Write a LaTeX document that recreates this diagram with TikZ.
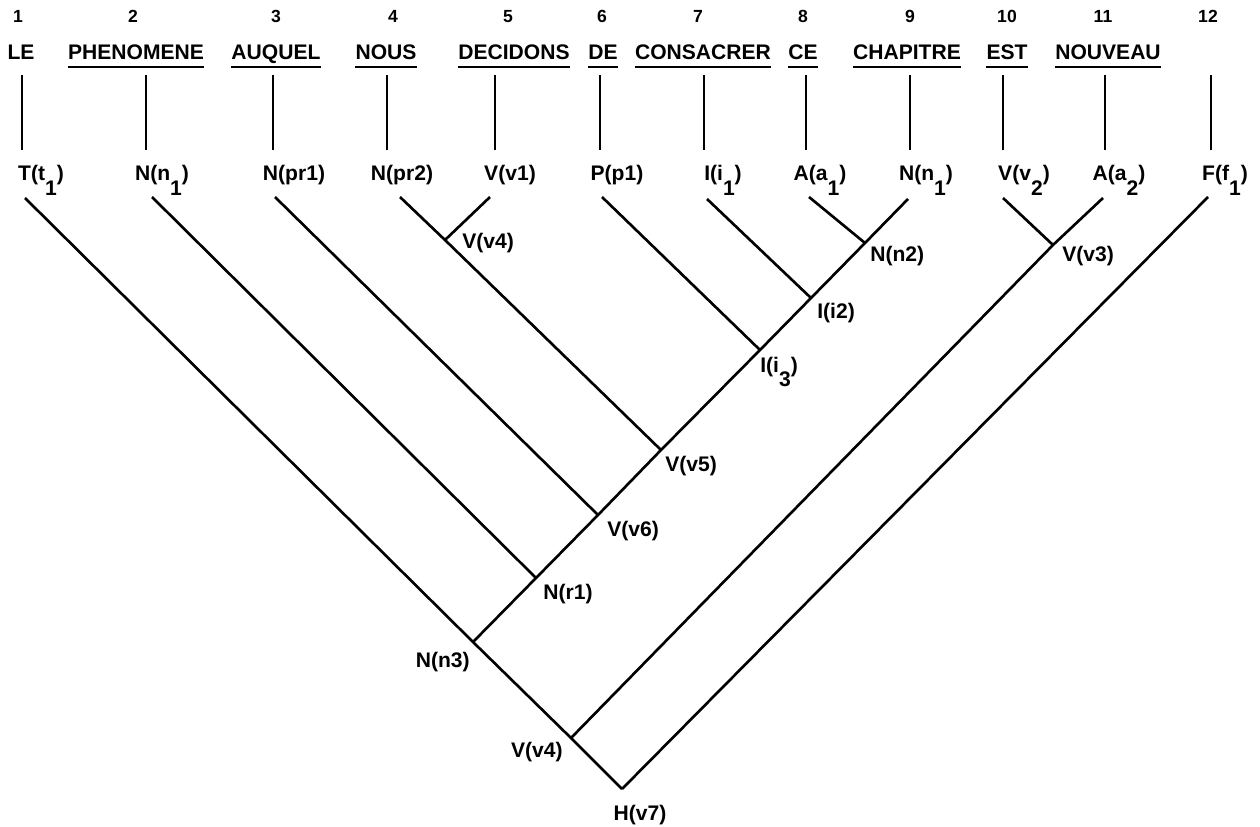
\documentclass[tikz,border=0pt]{standalone}
\usepackage{fontspec}
\setmainfont{Liberation Sans}
\usetikzlibrary{positioning}
\newcommand{\low}[1]{\raisebox{-1.3ex}{#1}}

\begin{document}
\begin{tikzpicture}[x=0.02cm,y=-0.02cm,
	num/.style={font=\fontsize{10}{12}\selectfont\bfseries, inner sep=0pt, anchor=base},
	word/.style={font=\fontsize{12}{14}\selectfont\bfseries, inner sep=0pt, text depth=0pt, anchor=base},
	leaf/.style={font=\fontsize{12}{14}\selectfont\bfseries, inner sep=0pt, anchor=base},
	lbl/.style={font=\fontsize{12}{14}\selectfont\bfseries, inner sep=0pt},
	uline/.style={line width=1.5pt},
	branch/.style={line width=1.5pt},
	stem/.style={line width=1.5pt, shorten >=8.5pt}]
		\useasboundingbox (0,0) rectangle (1260,827);
		
		% word numbers
		\node[num] (num1) at (18,23){1};
		\node[num] (num2) at (133,23){2};
		\node[num] (num3) at (276,23){3};
		\node[num] (num4) at (393,23){4};
		\node[num] (num5) at (508,23){5};
		\node[num] (num6) at (602,23){6};
		\node[num] (num7) at (698,23){7};
		\node[num] (num8) at (803,23){8};
		\node[num] (num9) at (910,23){9};
		\node[num] (num10) at (1007,23){10};
		\node[num] (num11) at (1103,23){11};
		\node[num] (num12) at (1208,23){12};
		
		% the sentence
		\node[word] (w1) at (21,60){LE};
		\node[word] (w2) at (136,60){PHENOMENE};
		\node[word] (w3) at (276,60){AUQUEL};
		\node[word] (w4) at (386,60){NOUS};
		\node[word] (w5) at (514,60){DECIDONS};
		\node[word] (w6) at (603,60){DE};
		\node[word] (w7) at (703,60){CONSACRER};
		\node[word] (w8) at (803,60){CE};
		\node[word] (w9) at (907,60){CHAPITRE};
		\node[word] (w10) at (1007,60){EST};
		\node[word] (w11) at (1108,60){NOUVEAU};
		
		\foreach \w in {w2,w3,w4,w5,w6,w7,w8,w9,w10,w11}
			\draw[uline] ([yshift=-3.7pt]\w.south west) -- ([yshift=-3.7pt]\w.south east);
		
		% categories
		\node[leaf] (l1) at (41,181){T(t\low{1})};
		\node[leaf] (l2) at (162,181){N(n\low{1})};
		\node[leaf] (l3) at (294,181){N(pr1)};
		\node[leaf] (l4) at (402,181){N(pr2)};
		\node[leaf] (l5) at (510,181){V(v1)};
		\node[leaf] (l6) at (617,181){P(p1)};
		\node[leaf] (l7) at (723,181){I(i\low{1})};
		\node[leaf] (l8) at (820,181){A(a\low{1})};
		\node[leaf] (l9) at (926,181){N(n\low{1})};
		\node[leaf] (l10) at (1024,181){V(v\low{2})};
		\node[leaf] (l11) at (1119,181){A(a\low{2})};
		\node[leaf] (l12) at (1225,181){F(f\low{1})};
		
		% stems from the words down to the categories
		\coordinate (c1) at (22,75);
		\coordinate (c2) at (146,75);
		\coordinate (c3) at (273,75);
		\coordinate (c4) at (387,75);
		\coordinate (c5) at (495,75);
		\coordinate (c6) at (600,75);
		\coordinate (c7) at (704,75);
		\coordinate (c8) at (806,75);
		\coordinate (c9) at (910,75);
		\coordinate (c10) at (1003,75);
		\coordinate (c11) at (1105,75);
		\coordinate (c12) at (1211,75);
		\foreach \i in {1,...,12}
			\draw[stem] (c\i) -- (c\i |- l\i.north);
		
		% feet of the branches
		\coordinate (f1) at (25,198);
		\coordinate (f2) at (152,197);
		\coordinate (f3) at (275,197);
		\coordinate (f4) at (400,197);
		\coordinate (f5) at (490,197);
		\coordinate (f6) at (602,197);
		\coordinate (f7) at (707,199);
		\coordinate (f8) at (809,197);
		\coordinate (f9) at (908,199);
		\coordinate (f10) at (1003,198);
		\coordinate (f11) at (1103,198);
		\coordinate (f12) at (1208,197);
		
		% junctions
		\coordinate (v4a) at (445,240);
		\coordinate (n2) at (865,243);
		\coordinate (v3) at (1053,245);
		\coordinate (i2) at (811,298);
		\coordinate (i3) at (760,350);
		\coordinate (v5) at (661,450);
		\coordinate (v6) at (598,515);
		\coordinate (r1) at (536,578);
		\coordinate (n3) at (473,642);
		\coordinate (v4b) at (571,738);
		\coordinate (v7) at (622,789);
		
		\node[lbl, anchor=base west] (Lv4a) at (462,249){V(v4)};
		\node[lbl, anchor=base west] (Ln2) at (870,262){N(n2)};
		\node[lbl, anchor=base west] (Lv3) at (1062,262){V(v3)};
		\node[lbl, anchor=base west] (Li2) at (817,318){I(i2)};
		\node[lbl, anchor=base west] (Li3) at (760,372){I(i\low{3})};
		\node[lbl, anchor=base west] (Lv5) at (665,471){V(v5)};
		\node[lbl, anchor=base west] (Lv6) at (607,536){V(v6)};
		\node[lbl, anchor=base west] (Lr1) at (543,599){N(r1)};
		\node[lbl, anchor=base east] (Ln3) at (470,667){N(n3)};
		\node[lbl, anchor=base east] (Lv4b) at (563,757){V(v4)};
		\node[lbl, anchor=base] (Lv7) at (640,820){H(v7)};
		
		% the tree
		\draw[branch] (f1) -- (n3) -- (v4b) -- (v7);
		\draw[branch] (f12) -- (v7);
		\draw[branch] (f9) -- (n2) -- (i2) -- (i3) -- (v5) -- (v6) -- (r1) -- (n3);
		\draw[branch] (f8) -- (n2);
		\draw[branch] (f7) -- (i2);
		\draw[branch] (f6) -- (i3);
		\draw[branch] (f4) -- (v4a) -- (v5);
		\draw[branch] (f5) -- (v4a);
		\draw[branch] (f3) -- (v6);
		\draw[branch] (f2) -- (r1);
		\draw[branch] (f10) -- (v3);
		\draw[branch] (f11) -- (v3) -- (v4b);
\end{tikzpicture}
\end{document}
